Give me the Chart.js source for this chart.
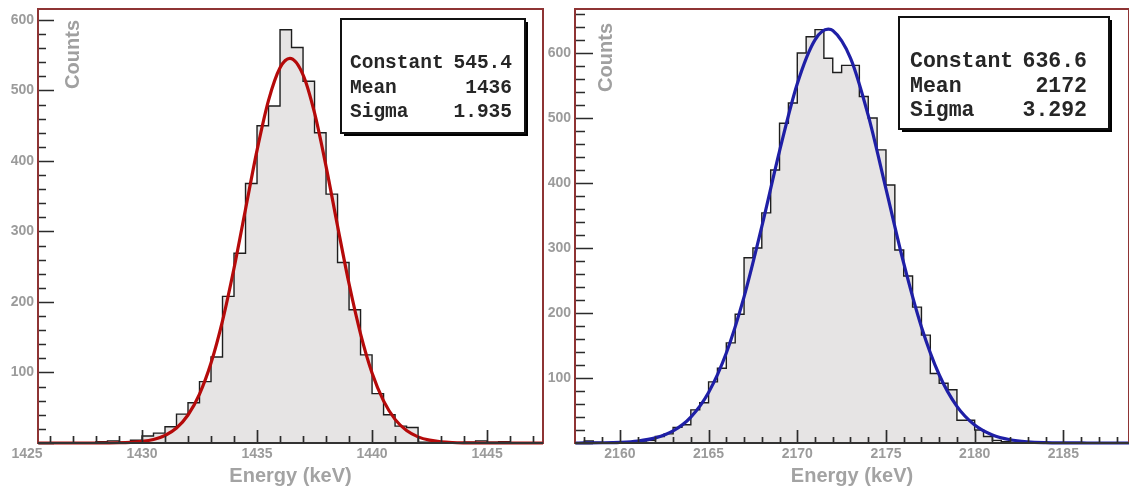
<!DOCTYPE html>
<html><head><meta charset="utf-8">
<script src="https://cdn.jsdelivr.net/npm/chart.js@4/dist/chart.umd.min.js"></script>
<style>
html,body{margin:0;padding:0;background:#fff;width:1129px;height:488px;overflow:hidden}
#c1{position:absolute;left:0;top:0}
#c2{position:absolute;left:546px;top:0}
</style></head><body>
<canvas id="c1" width="546" height="488"></canvas>
<canvas id="c2" width="583" height="488"></canvas>
<script>
// ---------- data ----------
const binWidth = 0.5;

// left spectrum (1436 keV line): histogram bins of 0.5 keV, first low edge
const leftFirstEdge = 1425.5;
const leftCounts = [0,0,0,0,0, 2,3,1,4,
  10,14,23,41,57,87,122,208,269,368,450,478,586,561,513,440,353,256,189,125,70,40,24,22,
  1,0,0,0,1,3,1,2,0,0,0];
// left fitted gaussian
const leftFitX = [1425.5,1427,1428,1429,1429.5,1430,1430.5,1431,1431.5,1432,1432.5,1433,1433.5,1434,1434.5,1435,1435.5,1436,1436.43,1437,1437.5,1438,1438.5,1439,1439.5,1440,1440.5,1441,1441.5,1442,1442.5,1443,1443.5,1444,1445,1447.43];
const leftFitY = [0,0,0.02,0.34,0.9,2.2,5.0,10.6,21.2,39.7,69.4,113.4,173.3,247.9,331.6,415.0,485.9,532.1,545.4,522.2,468.1,392.4,307.8,225.8,154.9,99.4,59.7,33.5,17.6,8.7,4.0,1.7,0.7,0.3,0.03,0];
const leftStats = [["Constant","545.4"],["Mean","1436"],["Sigma","1.935"]];

// right spectrum (2172 keV line)
const rightFirstEdge = 2157.5;
const rightCounts = [0,3,1,0,1,1,2,3,4,10,14,24,28,51,62,94,115,154,198,285,300,354,420,492,523,
  600,625,636,592,570,581,581,533,500,451,397,297,257,209,166,107,92,82,35,35,20,10,4,2,1,0,1,0,
  0,0,0,0,0,0,0,0,0,0];
const rightFitX = [2157.5,2158,2159,2160,2161,2162,2163,2164,2165,2166,2167,2168,2169,2170,2171,2171.75,2172,2173,2174,2175,2176,2177,2178,2179,2180,2181,2182,2183,2184,2185,2186,2188.7];
const rightFitY = [0,0.1,0.35,1.09,3.08,7.93,18.6,39.9,77.8,138.5,224.8,332.8,449.1,552.7,620.3,636.6,634.8,592.3,504.0,391.1,276.7,178.5,105.0,56.3,27.6,12.3,5.0,1.85,0.63,0.19,0.05,0];
const rightStats = [["Constant","636.6"],["Mean","2172"],["Sigma","3.292"]];

// tick labels
const leftEnergyTicks = [1425,1430,1435,1440,1445];
const rightEnergyTicks = [2160,2165,2170,2175,2180,2185];
const countTicks = [100,200,300,400,500,600];

// ---------- drawing ----------
const SANS = "'Liberation Sans', Arial, sans-serif";
const MONO = "'Liberation Mono', 'Courier New', monospace";
const GRAY = '#9b9b9b';

const decor = {
  id: 'decor',
  afterDatasetsDraw(chart, args, o) {
    const ctx = chart.ctx, a = chart.chartArea, xs = chart.scales.x, ys = chart.scales.y;
    ctx.save();
    // inward tick marks
    ctx.strokeStyle = '#2b2b2b';
    ctx.lineWidth = 1.7;
    ctx.beginPath();
    for (let k = 0; k * 20 <= ys.max; k++) {
      const v = k * 20, py = Math.round(ys.getPixelForValue(v)) + 0.5;
      const len = (v % 100 === 0) ? o.yMajor : o.yMinor;
      ctx.moveTo(a.left, py); ctx.lineTo(a.left + len, py);
    }
    for (let v = Math.ceil(xs.min); v <= xs.max; v++) {
      const px = Math.round(xs.getPixelForValue(v)) + 0.5;
      const len = (v % 5 === 0) ? o.xMajor : o.xMinor;
      ctx.moveTo(px, a.bottom); ctx.lineTo(px, a.bottom - len);
    }
    ctx.stroke();
    // frame
    ctx.strokeStyle = o.frameColor;
    ctx.lineWidth = 2;
    ctx.strokeRect(a.left, a.top, a.right - a.left, a.bottom - a.top);
    ctx.strokeStyle = '#333';
    ctx.beginPath(); ctx.moveTo(a.left, a.bottom); ctx.lineTo(a.right, a.bottom); ctx.stroke();
    // y title "Counts" inside the frame
    ctx.save();
    ctx.translate(o.countsX, o.countsY);
    ctx.rotate(-Math.PI / 2);
    ctx.fillStyle = '#a0a0a0';
    ctx.font = 'bold 20px ' + SANS;
    ctx.textAlign = 'right';
    ctx.textBaseline = 'alphabetic';
    ctx.fillText('Counts', 0, 0);
    ctx.restore();
    // stats box
    const b = o.box;
    ctx.fillStyle = '#000';
    ctx.fillRect(b.x + 3, b.y + 3, b.w, b.h);
    ctx.fillStyle = '#fff';
    ctx.fillRect(b.x, b.y, b.w, b.h);
    ctx.strokeStyle = '#111';
    ctx.lineWidth = 2;
    ctx.strokeRect(b.x, b.y, b.w, b.h);
    ctx.fillStyle = '#262626';
    ctx.font = 'bold ' + b.font + 'px ' + MONO;
    ctx.textBaseline = 'alphabetic';
    o.stats.forEach((row, i) => {
      const y = b.base0 + i * b.step;
      ctx.textAlign = 'left'; ctx.fillText(row[0], b.tx, y);
      ctx.textAlign = 'right'; ctx.fillText(row[1], b.vx, y);
    });
    ctx.restore();
  }
};

function makeChart(id, c) {
  const histPts = c.counts.map((v, i) => ({x: c.firstEdge + i * binWidth, y: v}));
  histPts.push({x: c.firstEdge + c.counts.length * binWidth, y: c.counts[c.counts.length - 1]});
  const fitPts = c.fitX.map((x, i) => ({x: x, y: c.fitY[i]}));
  const tickFont = {family: SANS, weight: 'bold', size: 14};
  return new Chart(document.getElementById(id), {
    type: 'line',
    data: {datasets: [
      {data: fitPts, borderColor: c.fitColor, borderWidth: 3.2, pointRadius: 0,
       cubicInterpolationMode: 'monotone', fill: false, clip: 4},
      {data: histPts, stepped: 'before', borderColor: '#1e1e1e', borderWidth: 1.4,
       backgroundColor: '#e6e4e4', fill: 'origin', pointRadius: 0, tension: 0}
    ]},
    options: {
      responsive: false, animation: false, devicePixelRatio: 1,
      layout: {padding: c.padding},
      plugins: {legend: {display: false}, tooltip: {enabled: false}, decor: c.decor},
      scales: {
        x: {type: 'linear', min: c.xMin, max: c.xMax, bounds: 'data',
            afterBuildTicks: s => { s.ticks = c.xTicks.map(v => ({value: v})); },
            ticks: {autoSkip: false, maxRotation: 0, padding: 3, color: GRAY, font: tickFont,
                    callback: v => String(v)},
            grid: {display: false, drawTicks: false}, border: {display: false},
            title: {display: true, text: 'Energy (keV)', color: '#a3a3a3',
                    font: {family: SANS, weight: 'bold', size: 20}, padding: {top: 0, bottom: 0}},
            afterFit: s => { s.height = 45; s.paddingLeft = 0; s.paddingRight = 0; }},
        y: {type: 'linear', min: 0, max: c.yMax, bounds: 'data',
            afterBuildTicks: s => { s.ticks = countTicks.map(v => ({value: v})); },
            ticks: {autoSkip: false, padding: 4, color: GRAY, font: tickFont,
                    callback: v => String(v)},
            grid: {display: false, drawTicks: false}, border: {display: false},
            afterFit: s => { s.width = c.yWidth; s.paddingTop = 0; s.paddingBottom = 0; }}
      }
    },
    plugins: [decor]
  });
}

makeChart('c1', {
  counts: leftCounts, firstEdge: leftFirstEdge, fitX: leftFitX, fitY: leftFitY,
  fitColor: '#b50a0a', xMin: 1425.48, xMax: 1447.43, yMax: 615.5, xTicks: leftEnergyTicks,
  yWidth: 38, padding: {left: 0, top: 9, right: 3, bottom: 0},
  decor: {frameColor: '#8e3434', yMajor: 16, yMinor: 8, xMajor: 13, xMinor: 7,
          countsX: 79, countsY: 20, stats: leftStats,
          box: {x: 341, y: 19, w: 184, h: 114, font: 19.5, tx: 350, vx: 512, base0: 68, step: 24.5}}
});
makeChart('c2', {
  counts: rightCounts, firstEdge: rightFirstEdge, fitX: rightFitX, fitY: rightFitY,
  fitColor: '#1f1fa6', xMin: 2157.47, xMax: 2188.7, yMax: 667.7, xTicks: rightEnergyTicks,
  yWidth: 29, padding: {left: 0, top: 9, right: 0, bottom: 0},
  decor: {frameColor: '#8e3434', yMajor: 18, yMinor: 10, xMajor: 13, xMinor: 6,
          countsX: 612 - 546, countsY: 23, stats: rightStats,
          box: {x: 899 - 546, y: 17, w: 210, h: 112, font: 21.5, tx: 910 - 546, vx: 1087 - 546, base0: 67, step: 24.5}}
});
</script></body></html>
